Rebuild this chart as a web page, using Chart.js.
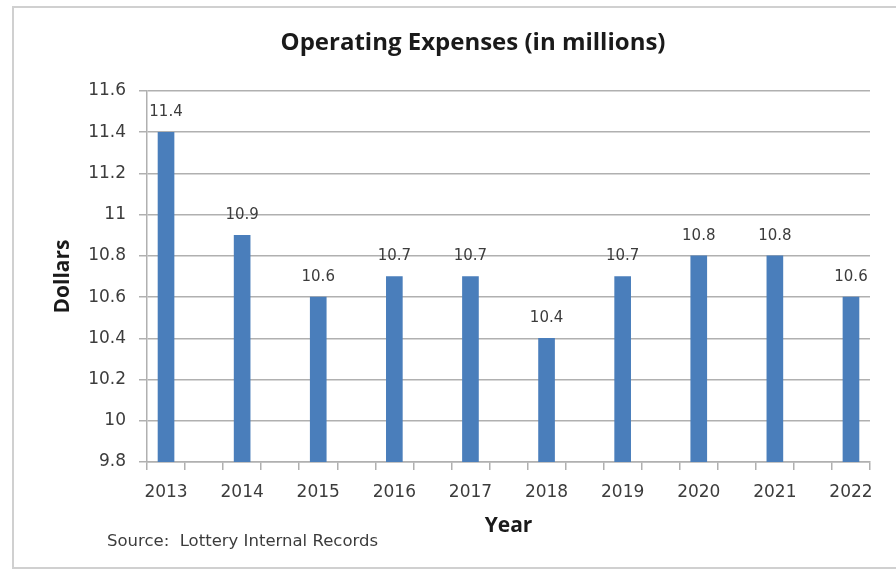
<!DOCTYPE html>
<html>
<head>
<meta charset="utf-8">
<title>Operating Expenses</title>
<script src="https://cdn.jsdelivr.net/npm/chart.js@4.4.1/dist/chart.umd.min.js"></script>
<style>
  html, body { margin: 0; padding: 0; background: #fff; }
  canvas { display: block; }
</style>
</head>
<body>
<canvas id="myChart" width="896" height="570"></canvas>
<script>
const years = [2013, 2014, 2015, 2016, 2017, 2018, 2019, 2020, 2021, 2022];
const expenses = [11.4, 10.9, 10.6, 10.7, 10.7, 10.4, 10.7, 10.8, 10.8, 10.6];
const yMin = 9.8;
const yMax = 11.6;
const yStep = 0.2;
const chartTitle = 'Operating Expenses (in millions)';
const sourceNote = 'Source:  Lottery Internal Records';

const gridColor = '#b0b0b0';
const tickText = '#3c3c3c';
const numFont = "'DejaVu Sans', Verdana, sans-serif";
const headFont = "'Open Sans', Lato, sans-serif";

// value labels over each bar
const barLabels = {
    id: 'barLabels',
    afterDatasetsDraw(chart) {
        const ctx = chart.ctx;
        const meta = chart.getDatasetMeta(0);
        ctx.save();
        ctx.font = '15px ' + numFont;
        ctx.fillStyle = tickText;
        ctx.textAlign = 'center';
        ctx.textBaseline = 'middle';
        meta.data.forEach((bar, i) => {
            ctx.fillText(expenses[i].toFixed(1), bar.x, bar.y - 20);
        });
        ctx.restore();
    }
};

// frame, heading and source line
const decorations = {
    id: 'decorations',
    afterDraw(chart) {
        const ctx = chart.ctx;
        ctx.save();
        ctx.strokeStyle = '#d0d0d0';
        ctx.lineWidth = 2;
        ctx.strokeRect(13, 7, 900, 561);

        ctx.fillStyle = '#1a1a1a';
        ctx.font = 'bold 24px ' + headFont;
        ctx.textAlign = 'center';
        ctx.textBaseline = 'middle';
        ctx.fillText(chartTitle, 473, 43);

        ctx.fillStyle = tickText;
        ctx.font = '16.5px ' + numFont;
        ctx.textAlign = 'left';
        ctx.fillText(sourceNote, 107, 542);
        ctx.restore();
    }
};

const ctx = document.getElementById('myChart').getContext('2d');

new Chart(ctx, {
    type: 'bar',
    data: {
        datasets: [{
            data: years.map((y, i) => ({ x: y, y: expenses[i] })),
            backgroundColor: '#4a7ebb',
            borderWidth: 0,
            barThickness: 16
        }]
    },
    options: {
        responsive: false,
        animation: false,
        layout: { padding: { left: 50, top: 91, right: 26, bottom: 8 } },
        plugins: {
            legend: { display: false },
            tooltip: { enabled: false }
        },
        scales: {
            x: {
                type: 'linear',
                offset: false,
                min: years[0] - 0.25,
                max: years[years.length - 1] + 0.25,
                afterFit(scale) { scale.height = 100; },
                grid: {
                    offset: false,
                    drawOnChartArea: false,
                    tickLength: 8,
                    lineWidth: 1.5,
                    tickColor: c => (c.tick && Number.isInteger(c.tick.value * 2)) ? 'rgba(0,0,0,0)' : gridColor
                },
                border: { color: gridColor, width: 1.5 },
                ticks: {
                    stepSize: 0.25,
                    autoSkip: false,
                    maxRotation: 0,
                    minRotation: 0,
                    padding: 12,
                    color: tickText,
                    font: { family: numFont, size: 17 },
                    callback: v => years.includes(v) ? String(v) : ''
                },
                title: {
                    display: true,
                    text: 'Year',
                    color: '#1a1a1a',
                    font: { family: headFont, size: 21, weight: 'bold' },
                    padding: { top: 0, bottom: 23 }
                }
            },
            y: {
                min: yMin,
                max: yMax,
                beginAtZero: false,
                afterFit(scale) { scale.width = 97; },
                grid: {
                    color: gridColor,
                    lineWidth: 1.5,
                    tickLength: 8
                },
                border: { color: gridColor, width: 1.5 },
                ticks: {
                    stepSize: yStep,
                    padding: 13,
                    color: tickText,
                    font: { family: numFont, size: 17 },
                    callback: v => String(Number(v.toFixed(1)))
                },
                title: {
                    display: true,
                    text: 'Dollars',
                    color: '#1a1a1a',
                    font: { family: headFont, size: 21, weight: 'bold' },
                    padding: { top: 0, bottom: 0 }
                }
            }
        }
    },
    plugins: [barLabels, decorations]
});
</script>
</body>
</html>
